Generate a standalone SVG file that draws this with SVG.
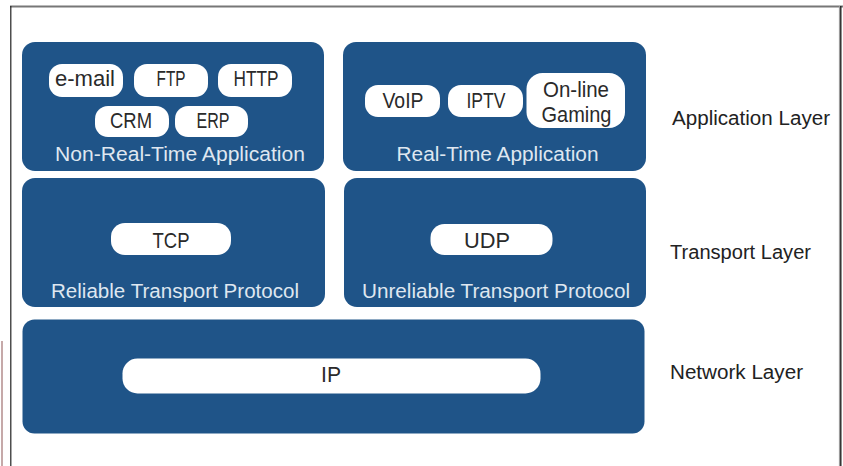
<svg xmlns="http://www.w3.org/2000/svg" width="843" height="466" viewBox="0 0 843 466">
<style>
.box{fill:#1f5488;}
.pill{fill:#ffffff;}
.pt{font-family:"Liberation Sans",Arial,sans-serif;font-size:22px;fill:#2a2a2a;text-anchor:middle;}
.bl{font-family:"Liberation Sans",Arial,sans-serif;font-size:20px;fill:#dfe7f0;text-anchor:middle;}
.ll{font-family:"Liberation Sans",Arial,sans-serif;font-size:20px;fill:#222222;}
</style>
<rect width="843" height="466" fill="#ffffff"/>
<g id="frame">
<line x1="10" y1="6.5" x2="843" y2="6.5" stroke="#777777" stroke-width="1.8"/>
<line x1="10.8" y1="6" x2="10.8" y2="466" stroke="#222222" stroke-width="1.2"/>
<line x1="839.5" y1="6" x2="839.5" y2="466" stroke="#9a9a9a" stroke-width="1.2"/>
<line x1="840.8" y1="6" x2="840.8" y2="466" stroke="#222222" stroke-width="1.4"/>
<line x1="2" y1="341" x2="2" y2="466" stroke="#a07070" stroke-width="1.2"/>
</g>
<g id="non-real-time">
<rect class="box" x="22" y="42" width="302" height="129" rx="13"/>
<rect class="pill" x="49" y="64" width="74" height="33" rx="13"/>
<text class="pt" x="85" y="86" textLength="60" lengthAdjust="spacingAndGlyphs">e-mail</text>
<rect class="pill" x="134" y="64" width="74" height="33" rx="13"/>
<text class="pt" x="171" y="86" textLength="29" lengthAdjust="spacingAndGlyphs">FTP</text>
<rect class="pill" x="218" y="64" width="74" height="33" rx="13"/>
<text class="pt" x="256" y="86" textLength="45" lengthAdjust="spacingAndGlyphs">HTTP</text>
<rect class="pill" x="95" y="106" width="74" height="31" rx="13"/>
<text class="pt" x="131" y="128" textLength="42" lengthAdjust="spacingAndGlyphs">CRM</text>
<rect class="pill" x="175" y="106" width="73" height="31" rx="13"/>
<text class="pt" x="213" y="128" textLength="33" lengthAdjust="spacingAndGlyphs">ERP</text>
<text class="bl" x="180" y="161" textLength="250" lengthAdjust="spacingAndGlyphs">Non-Real-Time Application</text>
</g>
<g id="real-time">
<rect class="box" x="343" y="42" width="303" height="129" rx="13"/>
<rect class="pill" x="365" y="85" width="75" height="32" rx="13"/>
<text class="pt" x="403" y="108" textLength="41" lengthAdjust="spacingAndGlyphs">VoIP</text>
<rect class="pill" x="448" y="85" width="75" height="32" rx="13"/>
<text class="pt" x="486" y="108" textLength="39" lengthAdjust="spacingAndGlyphs">IPTV</text>
<rect class="pill" x="526.5" y="73" width="98.5" height="55" rx="16"/>
<text class="pt" x="576" y="97" textLength="66" lengthAdjust="spacingAndGlyphs">On-line</text>
<text class="pt" x="576.5" y="122" textLength="70" lengthAdjust="spacingAndGlyphs">Gaming</text>
<text class="bl" x="497.5" y="161" textLength="202" lengthAdjust="spacingAndGlyphs">Real-Time Application</text>
</g>
<g id="reliable">
<rect class="box" x="22" y="178" width="303" height="129" rx="13"/>
<rect class="pill" x="111" y="223" width="120" height="32" rx="14"/>
<text class="pt" x="171" y="247.5" textLength="37" lengthAdjust="spacingAndGlyphs">TCP</text>
<text class="bl" x="175" y="298" textLength="248" lengthAdjust="spacingAndGlyphs">Reliable Transport Protocol</text>
</g>
<g id="unreliable">
<rect class="box" x="344" y="178" width="302" height="129" rx="13"/>
<rect class="pill" x="430.5" y="224" width="122" height="31" rx="14"/>
<text class="pt" x="487" y="248" textLength="46" lengthAdjust="spacingAndGlyphs">UDP</text>
<text class="bl" x="496" y="298" textLength="268" lengthAdjust="spacingAndGlyphs">Unreliable Transport Protocol</text>
</g>
<g id="network">
<rect class="box" x="22.5" y="319.5" width="622" height="114" rx="12"/>
<rect class="pill" x="122.5" y="358.5" width="418" height="35" rx="15"/>
<text class="pt" x="331" y="382" textLength="20" lengthAdjust="spacingAndGlyphs">IP</text>
</g>
<g id="layer-labels">
<text class="ll" x="672" y="125" textLength="158" lengthAdjust="spacingAndGlyphs">Application Layer</text>
<text class="ll" x="670" y="259" textLength="141" lengthAdjust="spacingAndGlyphs">Transport Layer</text>
<text class="ll" x="670" y="379" textLength="133" lengthAdjust="spacingAndGlyphs">Network Layer</text>
</g>
<g id="connectors"></g>
</svg>
